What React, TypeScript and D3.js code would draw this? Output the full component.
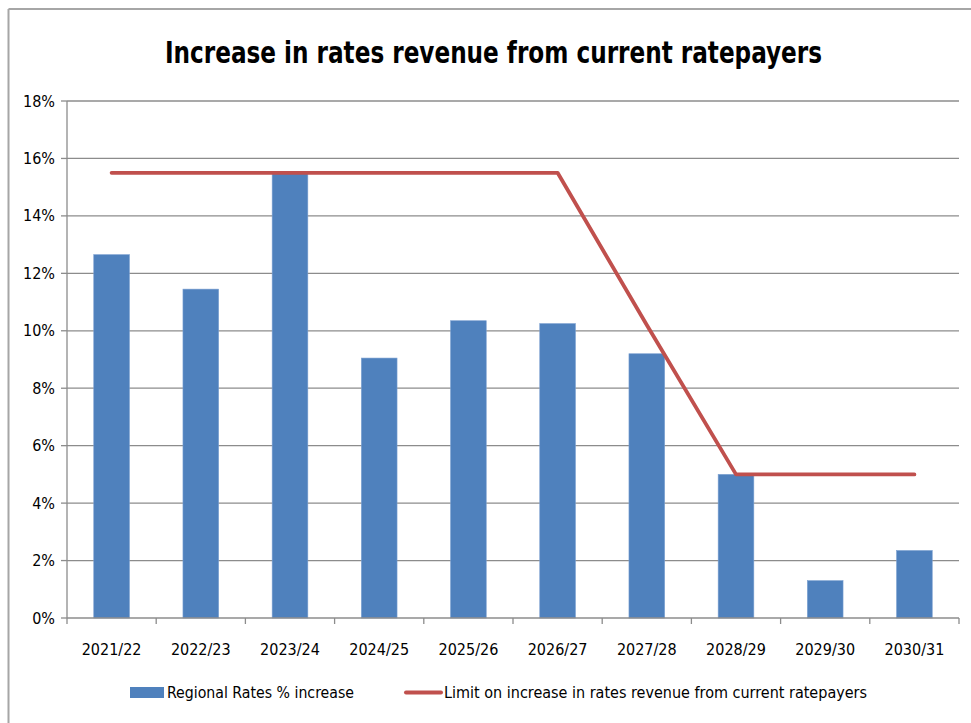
import React from "react";
import * as d3 from "d3";

const categories = ["2021/22", "2022/23", "2023/24", "2024/25", "2025/26", "2026/27", "2027/28", "2028/29", "2029/30", "2030/31"];
const regionalRates = [12.65, 11.45, 15.5, 9.05, 10.35, 10.25, 9.2, 5.0, 1.3, 2.35];
const limitValues = [15.5, 15.5, 15.5, 15.5, 15.5, 15.5, 10.2, 5.0, 5.0, 5.0];
const yTicks = [0, 2, 4, 6, 8, 10, 12, 14, 16, 18];

const FONT = "'Liberation Sans Narrow', 'DejaVu Sans Condensed', 'Open Sans', sans-serif";
const BLUE = "#4F81BD";
const RED = "#C0504D";
const GRID = "#8c8c8c";

export default function App() {
  const W = 971, H = 723;
  const left = 67, right = 959, top = 101, bottom = 618;
  const x = d3.scaleBand<string>().domain(categories).range([left, right]).paddingInner(0).paddingOuter(0);
  const y = d3.scaleLinear().domain([0, 18]).range([bottom, top]);
  const bw = x.bandwidth() * 0.4;
  const cx = (c: string) => (x(c) as number) + x.bandwidth() / 2;
  const line = d3.line<number>().x((_, i) => cx(categories[i])).y((v) => y(v));

  return (
    <svg width={W} height={H} style={{ position: "absolute", left: 0, top: 0, background: "#fff" }}>
      {/* frame */}
      <line x1={8.5} y1={9} x2={8.5} y2={H} stroke="#a6a6a6" strokeWidth={2} />
      <line x1={8.5} y1={9} x2={W} y2={9} stroke="#a6a6a6" strokeWidth={2} />

      <text x={493.5} y={63} textAnchor="middle" fontFamily={FONT} fontWeight="bold" fontSize={31}
        textLength={657} lengthAdjust="spacingAndGlyphs" fill="#000">
        Increase in rates revenue from current ratepayers
      </text>

      {/* gridlines */}
      {yTicks.map((t) => (
        <g key={t}>
          {t > 0 && <line x1={left} x2={right} y1={y(t)} y2={y(t)} stroke={GRID} strokeWidth={1.3} />}
          <line x1={left - 6} x2={left} y1={y(t)} y2={y(t)} stroke={GRID} strokeWidth={1.3} />
          <text x={55} y={y(t)} dy="0.35em" textAnchor="end" fontFamily={FONT} fontSize={16} fill="#000">
            {t}%
          </text>
        </g>
      ))}

      {/* bars */}
      {categories.map((c, i) => (
        <rect key={c} x={cx(c) - bw / 2} y={y(regionalRates[i])} width={bw}
          height={y(0) - y(regionalRates[i])} fill={BLUE} stroke="#7a9fd0" strokeWidth={0.6} />
      ))}

      {/* axes */}
      <line x1={left} x2={left} y1={top} y2={bottom} stroke={GRID} strokeWidth={1.3} />
      <line x1={left} x2={right} y1={bottom} y2={bottom} stroke={GRID} strokeWidth={1.3} />
      {[...categories.map((c) => x(c) as number), right].map((px, i) => (
        <line key={i} x1={px} x2={px} y1={bottom} y2={bottom + 6} stroke={GRID} strokeWidth={1.3} />
      ))}
      {categories.map((c) => (
        <text key={c} x={cx(c)} y={655} textAnchor="middle" fontFamily={FONT} fontSize={16} fill="#000">
          {c}
        </text>
      ))}

      {/* limit line */}
      <path d={line(limitValues) || ""} fill="none" stroke={RED} strokeWidth={3.8}
        strokeLinecap="round" strokeLinejoin="round" />

      {/* legend */}
      <rect x={130} y={687} width={34} height={11} fill={BLUE} />
      <text x={167} y={698} fontFamily={FONT} fontSize={16} textLength={187} lengthAdjust="spacingAndGlyphs" fill="#000">
        Regional Rates % increase
      </text>
      <line x1={406} x2={441} y1={692.5} y2={692.5} stroke={RED} strokeWidth={4} strokeLinecap="round" />
      <text x={444} y={698} fontFamily={FONT} fontSize={16} textLength={423} lengthAdjust="spacingAndGlyphs" fill="#000">
        Limit on increase in rates revenue from current ratepayers
      </text>
    </svg>
  );
}
